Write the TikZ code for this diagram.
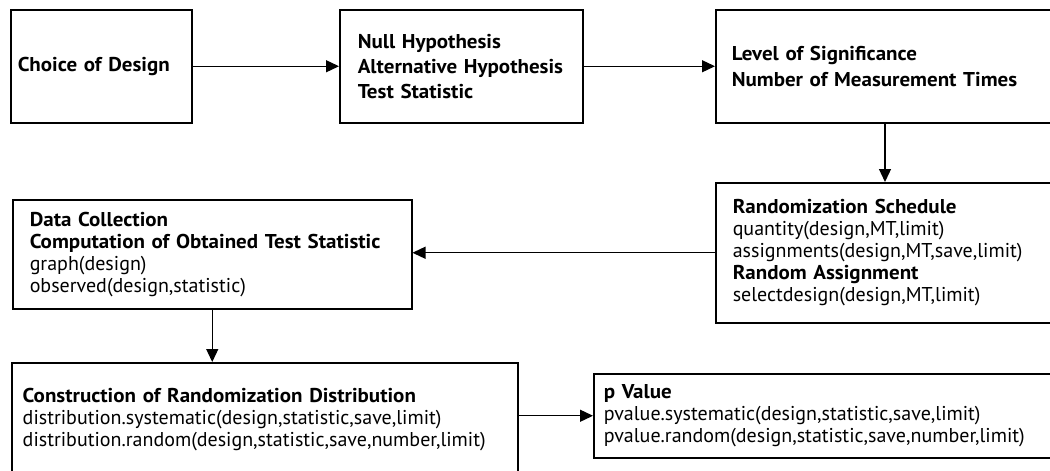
\documentclass[tikz,border=0pt]{standalone}
\usepackage{fontspec}
\setmainfont{PT Sans}[BoldFeatures={FakeStretch=1.05}]
\usetikzlibrary{arrows.meta}

\begin{document}
\begin{tikzpicture}[
        x=1pt, y=-1pt,
        stage/.style={draw, rectangle, line width=1.5pt, anchor=north west, inner ysep=0pt, align=left, font=\fontsize{20}{22}\selectfont},
        top/.style={font=\fontsize{20}{25}\selectfont},
        flow/.style={draw, line width=1.3pt, -{Triangle[length=13pt,width=12pt]}}
    ]
 \useasboundingbox (0,0) rectangle (1050,471);
 \clip (0,0) rectangle (1050,471);
 % first row
 \node[stage, top, minimum width=181pt, minimum height=113pt, inner xsep=7pt, text width=167pt] (choice) at (10,9)
     {\textbf{Choice of Design}};
 \node[stage, top, minimum width=243pt, minimum height=113pt, inner xsep=18pt, text width=207pt] (hypo) at (339,9)
     {\textbf{Null Hypothesis}\\ \mbox{\textbf{Alternative Hypothesis}}\\ \textbf{Test Statistic}};
 \node[stage, minimum width=400pt, minimum height=113pt, inner xsep=16pt, text width=368pt, font=\fontsize{20}{26}\selectfont] (level) at (715,9)
     {\textbf{Level of Significance}\\ \textbf{Number of Measurement Times}};
 % second row
 \node[stage, minimum width=400pt, minimum height=140pt, inner xsep=17pt, text width=366pt] (sched) at (715,182)
     {\textbf{Randomization Schedule}\\ quantity(design,MT,limit)\\ assignments(design,MT,save,limit)\\
      \textbf{Random Assignment}\\ selectdesign(design,MT,limit)};
 \node[stage, minimum width=399pt, minimum height=109pt, inner xsep=17pt, text width=365pt] (data) at (12,199)
     {\textbf{Data Collection}\\ \textbf{Computation of Obtained Test Statistic}\\ graph(design)\\ observed(design,statistic)};
 % third row
 \node[stage, minimum width=506pt, minimum height=114pt, inner xsep=11pt, text width=484pt] (constr) at (11,362)
     {\textbf{Construction of Randomization Distribution}\\ distribution.systematic(design,statistic,save,limit)\\
      distribution.random(design,statistic,save,number,limit)};
 \node[stage, minimum width=500pt, minimum height=84pt, inner xsep=10pt, text width=480pt] (pval) at (593,373)
     {\textbf{p Value}\\ pvalue.systematic(design,statistic,save,limit)\\ pvalue.random(design,statistic,save,number,limit)};
 % connectors
 \draw[flow] (choice) -- (hypo);
 \draw[flow] (hypo) -- (level);
 \draw[flow] ([xshift=170pt]level.south west) -- ([xshift=170pt]sched.north west);
 \draw[flow] (sched.west) -- (sched.west -| data.east);
 \draw[flow] (data.south) -- (data.south |- constr.north);
 \draw[flow] (pval.west -| constr.east) -- (pval.west);
\end{tikzpicture}
\end{document}
